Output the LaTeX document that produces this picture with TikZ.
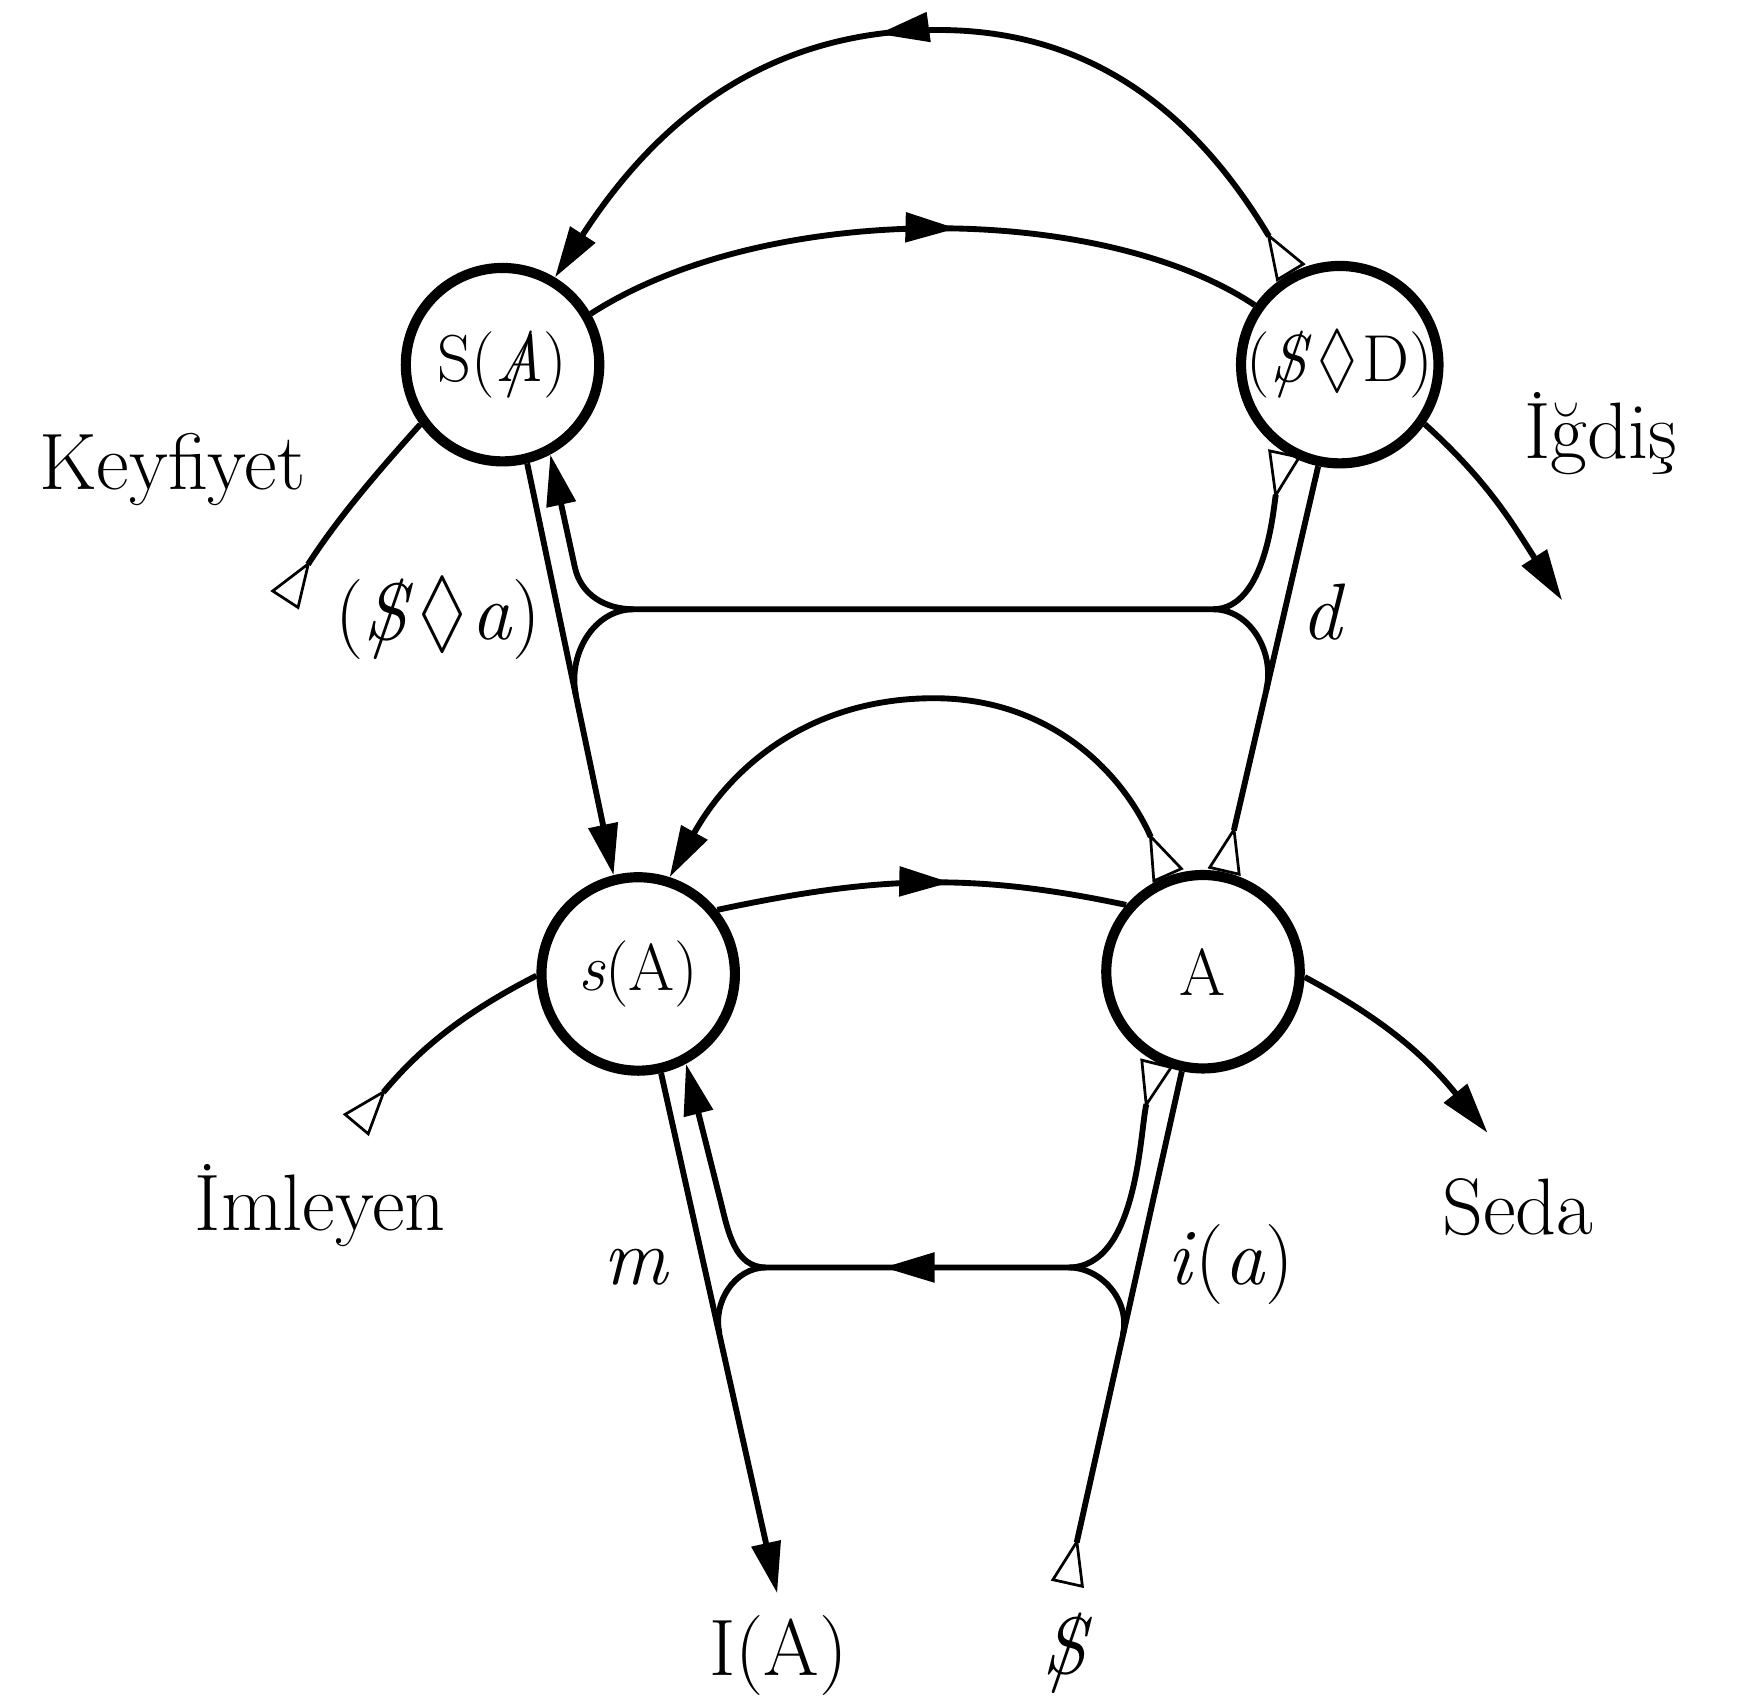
\documentclass[tikz,border=0pt]{standalone}
\usepackage{amsmath}
\usepackage{amssymb}
\usepackage{graphicx}
\usepackage{fontspec}
\usetikzlibrary{arrows.meta,decorations.markings}

\newcommand{\barS}{\ooalign{\hfil\textit{S}\hfil\cr\hfil$/$\hfil\cr}}
\newcommand{\barA}{\ooalign{\hfil\textit{A}\hfil\cr\hfil$/$\hfil\cr}}
\newcommand{\loz}{\raisebox{-0.03em}{\scalebox{0.9}[1.15]{$\lozenge$}}}

\tikzset{
  tailmark/.tip={Triangle[open, reversed, length=4.3mm, width=3mm, line width=0.7pt]},
  headmark/.tip={Triangle[length=4.6mm, width=2.6mm]},
  stage/.style={circle, draw, line width=2.6pt, minimum size=1.74cm, inner sep=0pt, font=\fontsize{17}{20}\selectfont},
  vec/.style={line width=1.5pt},
  midhead/.style={postaction={decorate}, decoration={markings, mark=at position #1 with {\arrow{headmark}}}},
  lbl/.style={anchor=base, inner sep=0pt, font=\fontsize{20.5}{24}\selectfont}
}

\begin{document}
\begin{tikzpicture}
\useasboundingbox (0,0) rectangle (15.65,-15.31);
% the four points of the graph
\node[stage] (SbA) at (4.52,-3.28) {S(\barA)};
\node[stage] (SD) at (12.05,-3.28) {(\barS\kern0.08em\loz\kern0.08em D)};
\node[stage] (sA) at (5.74,-8.76) {\textit{s}(A)};
\node[stage] (A) at (10.82,-8.74) {A};

% free ends and junctions
\coordinate (top1) at (8.44,-0.27);
\coordinate (top2) at (8.40,-6.28);
\coordinate (cUR) at (10.91,-5.48);
\coordinate (cUL) at (5.70,-5.48);
\coordinate (bUL) at (5.17,-5.10);
\coordinate (mUL) at (5.18,-6.25);
\coordinate (mUR) at (11.39,-6.20);
\coordinate (cLR) at (9.61,-11.40);
\coordinate (cLL) at (6.89,-11.40);
\coordinate (bLL) at (6.48,-10.80);
\coordinate (mLL) at (6.47,-11.99);
\coordinate (mLR) at (10.10,-12.00);
\coordinate (kf) at (2.56,-5.40);
\coordinate (imp) at (3.20,-10.12);
\coordinate (igd) at (14.05,-5.40);
\coordinate (sedatip) at (13.38,-10.19);
\coordinate (iatip) at (6.99,-14.33);
\coordinate (dsb) at (9.60,-14.25);

% upper level
\draw[vec][tailmark-headmark, midhead=0.55] (SD.118) to[out=121, in=0] (top1) to[out=180, in=57] (SbA.59);
\draw[vec][midhead=0.55] (SbA.30) .. controls (6.90,-1.80) and (9.90,-1.82) .. (SD.145);
\draw[vec][-headmark] (SbA.-76) -- (sA.104);
\draw[vec][tailmark-] (A.78) -- (SD.-102);
\draw[vec][tailmark-headmark] (SD.238) to[out=258, in=0, looseness=0.8] (cUR) -- (cUL) to[out=180, in=-78] (bUL) -- (SbA.-62);
\draw[vec] (cUL) to[out=180, in=102] (mUL);
\draw[vec] (cUR) to[out=0, in=77] (mUR);
\draw[vec][tailmark-] (kf) to[out=57, in=228] (SbA.216);
\draw[vec][-headmark] (SD.-35) to[out=-42, in=123] (igd);

% lower level
\draw[vec][tailmark-headmark] (A.110) to[out=114, in=0] (top2) to[out=180, in=61] (sA.72);
\draw[vec][midhead=0.57] (sA.39) to[out=12, in=168] (A.139);
\draw[vec][-headmark] (sA.-77) -- (iatip);
\draw[vec][tailmark-] (dsb) -- (A.-102);
\draw[vec][tailmark-headmark, midhead=0.55] (A.243) to[out=256, in=0, looseness=0.8] (cLR) -- (cLL) to[out=180, in=-76] (bLL) -- (sA.-62);
\draw[vec] (cLL) to[out=180, in=102.6] (mLL);
\draw[vec] (cLR) to[out=0, in=77.4] (mLR);
\draw[vec][tailmark-] (imp) to[out=50, in=207] (sA.181);
\draw[vec][-headmark] (A.-3) to[out=-28, in=129] (sedatip);

% labels
\node[lbl] (kfl) at (1.55,-4.40) {Keyfiyet};
\node[lbl] (igl) at (14.40,-4.12) {İğdiş};
\node[lbl] (sal) at (3.94,-5.75) {(\barS\kern0.06em\loz\kern0.06em\textit{a})};
\node[lbl] (dl) at (11.90,-5.75) {\textit{d}};
\node[lbl] (iml) at (2.88,-11.07) {İmleyen};
\node[lbl] (sdl) at (13.65,-11.10) {Seda};
\node[lbl] (ml) at (5.72,-11.55) {\textit{m}};
\node[lbl] (ial) at (11.07,-11.55) {\textit{i}(\textit{a})};
\node[lbl] (IAl) at (7.00,-15.07) {I(A)};
\node[lbl] (dsl) at (9.60,-15.05) {\barS};
\end{tikzpicture}
\end{document}
